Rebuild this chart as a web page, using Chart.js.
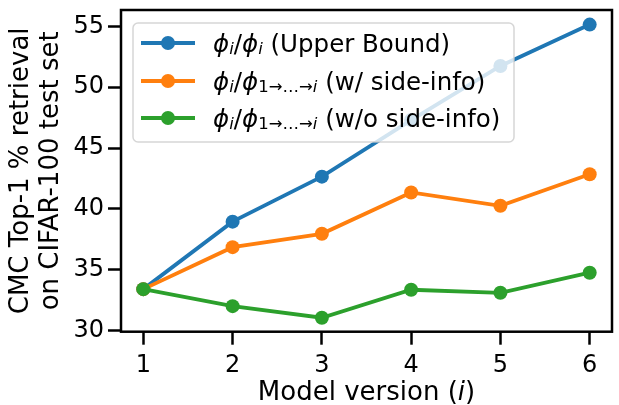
<!DOCTYPE html>
<html>
<head>
<meta charset="utf-8">
<script src="https://cdn.jsdelivr.net/npm/chart.js@4.4.1/dist/chart.umd.min.js"></script>
<style>
  html, body { margin: 0; padding: 0; background: #fff; }
  #wrap { width: 619px; height: 405px; position: relative; }
</style>
</head>
<body>
<div id="wrap"><canvas id="chart"></canvas></div>
<script>
// Data
const modelVersions = [1, 2, 3, 4, 5, 6];
const upperBound = [33.4, 38.95, 42.65, 47.3, 51.75, 55.15];
const withSideInfo = [33.4, 36.85, 37.95, 41.35, 40.25, 42.85];
const withoutSideInfo = [33.4, 32.0, 31.05, 33.35, 33.1, 34.75];
const xTicks = [1, 2, 3, 4, 5, 6];
const yTicks = [30, 35, 40, 45, 50, 55];

// Legend labels as rich-text pieces: [text, style]
const legendLabels = [
    [['ϕ', 'it'], ['i', 'subit'], ['/', 'rm'], ['ϕ', 'it'], ['i', 'subit'], [' (Upper Bound)', 'rm']],
    [['ϕ', 'it'], ['i', 'subit'], ['/', 'rm'], ['ϕ', 'it'], ['1→…→', 'sub'], ['i', 'subit'], [' (w/ side-info)', 'rm']],
    [['ϕ', 'it'], ['i', 'subit'], ['/', 'rm'], ['ϕ', 'it'], ['1→…→', 'sub'], ['i', 'subit'], [' (w/o side-info)', 'rm']]
];
const colors = ['#1f77b4', '#ff7f0e', '#2ca02c'];
const FONT = '"DejaVu Sans", sans-serif';

function toPoints(ys) {
    return modelVersions.map((x, i) => ({ x: x, y: ys[i] }));
}

function drawRich(ctx, pieces, x, baseline) {
    pieces.forEach(([t, style]) => {
        let font = '24.5px ' + FONT;
        let y = baseline;
        if (style === 'it') font = 'italic 24.5px ' + FONT;
        if (style === 'sub') { font = '16.5px ' + FONT; y = baseline + 2; }
        if (style === 'subit') { font = 'italic 16.5px ' + FONT; y = baseline + 2; }
        ctx.font = font;
        ctx.fillText(t, x, y);
        x += ctx.measureText(t).width;
    });
}

const extras = {
    id: 'extras',
    afterDatasetsDraw(chart) {
        const { ctx, chartArea: a } = chart;
        ctx.save();
        ctx.strokeStyle = '#000';
        ctx.lineWidth = 2.5;
        ctx.strokeRect(a.left, a.top, a.right - a.left, a.bottom - a.top);
        ctx.restore();
    },
    afterDraw(chart) {
        const { ctx, chartArea: a } = chart;
        ctx.save();

        // legend box
        const bx = a.left + 12, by = a.top + 13, bw = 381, bh = 119, r = 5;
        ctx.beginPath();
        ctx.moveTo(bx + r, by);
        ctx.arcTo(bx + bw, by, bx + bw, by + bh, r);
        ctx.arcTo(bx + bw, by + bh, bx, by + bh, r);
        ctx.arcTo(bx, by + bh, bx, by, r);
        ctx.arcTo(bx, by, bx + bw, by, r);
        ctx.closePath();
        ctx.fillStyle = 'rgba(255,255,255,0.8)';
        ctx.fill();
        ctx.strokeStyle = 'rgba(204,204,204,0.8)';
        ctx.lineWidth = 1.5;
        ctx.stroke();

        const rowY = [by + 20, by + 58, by + 95];
        legendLabels.forEach((pieces, i) => {
            const cy = rowY[i];
            ctx.strokeStyle = colors[i];
            ctx.lineWidth = 3.8;
            ctx.beginPath();
            ctx.moveTo(bx + 8, cy);
            ctx.lineTo(bx + 62, cy);
            ctx.stroke();
            ctx.fillStyle = colors[i];
            ctx.beginPath();
            ctx.arc(bx + 35, cy, 7, 0, Math.PI * 2);
            ctx.fill();
            ctx.fillStyle = '#000';
            ctx.textAlign = 'left';
            ctx.textBaseline = 'alphabetic';
            drawRich(ctx, pieces, bx + 80, cy + 8.5);
        });

        // x axis title with italic i
        const parts = [['Model version (', 'rm'], ['i', 'it'], [')', 'rm']];
        let total = 0;
        parts.forEach(([t, s]) => {
            ctx.font = (s === 'it' ? 'italic ' : '') + '26px ' + FONT;
            total += ctx.measureText(t).width;
        });
        let x = (a.left + a.right) / 2 - total / 2;
        ctx.fillStyle = '#000';
        parts.forEach(([t, s]) => {
            ctx.font = (s === 'it' ? 'italic ' : '') + '26px ' + FONT;
            ctx.fillText(t, x, 400);
            x += ctx.measureText(t).width;
        });
        ctx.restore();
    }
};

const chartCanvas = document.getElementById('chart');
const myChart = new Chart(chartCanvas, {
    type: 'line',
    data: {
        datasets: [
            { label: 'Upper Bound', data: toPoints(upperBound), order: 3 },
            { label: 'w/ side-info', data: toPoints(withSideInfo), order: 2 },
            { label: 'w/o side-info', data: toPoints(withoutSideInfo), order: 1 }
        ].map((d, i) => Object.assign(d, {
            borderColor: colors[i],
            backgroundColor: colors[i],
            pointBackgroundColor: colors[i],
            pointBorderWidth: 0,
            pointRadius: 7,
            borderWidth: 3.8,
            tension: 0
        }))
    },
    options: {
        responsive: true,
        maintainAspectRatio: false,
        animation: false,
        devicePixelRatio: 1,
        layout: { padding: { left: 0, top: 10, right: 1.5, bottom: 0 } },
        scales: {
            x: {
                type: 'linear',
                min: 0.75,
                max: 6.25,
                afterBuildTicks: scale => { scale.ticks = xTicks.map(v => ({ value: v })); },
                afterFit: scale => {
                    scale.height = 73.3;
                    scale.paddingLeft = 0;
                    scale.paddingRight = 0;
                },
                border: { display: false },
                grid: { drawOnChartArea: false, drawTicks: true, tickLength: 13, tickWidth: 2.5, tickColor: '#000' },
                ticks: { color: '#000', padding: 7, font: { family: FONT, size: 24 }, maxRotation: 0 },
                title: { display: false }
            },
            y: {
                type: 'linear',
                min: 29.9,
                max: 56.35,
                afterBuildTicks: scale => { scale.ticks = yTicks.map(v => ({ value: v })); },
                afterFit: scale => {
                    scale.width = 121;
                    scale.paddingTop = 0;
                    scale.paddingBottom = 0;
                },
                border: { display: false },
                grid: { drawOnChartArea: false, drawTicks: true, tickLength: 13, tickWidth: 2.5, tickColor: '#000' },
                ticks: { color: '#000', padding: 4, font: { family: FONT, size: 24 } },
                title: {
                    display: true,
                    text: ['CMC Top-1 % retrieval', 'on CIFAR-100 test set'],
                    color: '#000',
                    font: { family: FONT, size: 26, lineHeight: 30 / 26 },
                    padding: { top: 6.5, bottom: 0 }
                }
            }
        },
        plugins: {
            legend: { display: false },
            tooltip: { enabled: false }
        }
    },
    plugins: [extras]
});
</script>
</body>
</html>
